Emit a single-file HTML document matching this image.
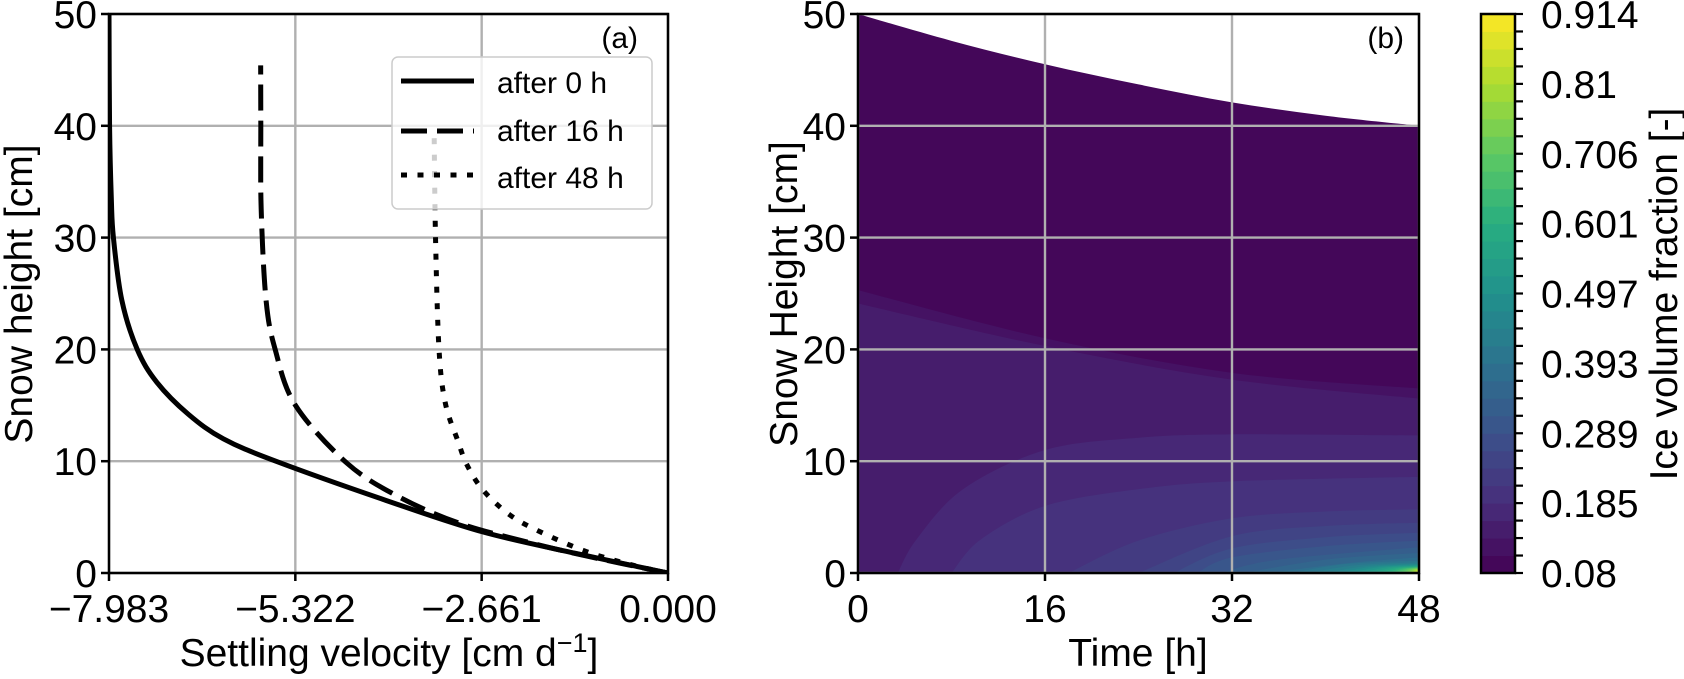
<!DOCTYPE html>
<html><head><meta charset="utf-8"><style>
html,body{margin:0;padding:0;background:#fff;}
svg{display:block;font-family:"Liberation Sans",Arial,sans-serif;}
</style></head><body>
<svg id="fig" width="1684" height="679" viewBox="0 0 1684 679">
<defs>
<clipPath id="clipA"><rect x="109" y="14" width="559" height="559"/></clipPath>
<clipPath id="clipB"><rect x="858" y="14" width="561" height="559"/></clipPath>
</defs>
<g id="panelA"></g>
<g id="panelB"></g>
<g id="cbar"></g>
</svg>
<script>
// ---------- Panel (a) data ----------
const velTicks = [-7.983, -5.322, -2.661, 0.000];
const velTickLabels = ["\u22127.983", "\u22125.322", "\u22122.661", "0.000"];
const heightTicks = [0, 10, 20, 30, 40, 50];
const h0 = [0, 1.76, 3.7, 6.5, 10, 12, 14.2, 17.06, 20, 24.4, 30, 33.5, 40, 50];
const v0 = [0, -1.32, -2.66, -4.03, -5.6, -6.35, -6.85, -7.3, -7.58, -7.8, -7.92, -7.95, -7.975, -7.983];
const h16 = [0, 1.5, 2.8, 4.45, 6.8, 9.8, 15.0, 20, 24.4, 32.6, 40, 45.4];
const v16 = [0, -1.15, -2.03, -2.98, -3.84, -4.58, -5.32, -5.61, -5.74, -5.81, -5.815, -5.817];
const h48 = [0, 0.7, 1.9, 3.7, 5.2, 7.4, 9.66, 11.8, 15.2, 20, 30, 39.6];
const v48 = [0, -0.5, -1.16, -1.83, -2.26, -2.64, -2.87, -3.0, -3.18, -3.27, -3.32, -3.34];
const seriesNames = ["after 0 h", "after 16 h", "after 48 h"];

// ---------- Panel (b) data ----------
const timeTicks = [0, 16, 32, 48];
const topSurfaceT = [0, 8, 16, 24, 32, 40, 48];
const topSurfaceH = [50, 47.6, 45.5, 43.7, 42.1, 40.9, 40.0];
const upperBoundaries = [
  [[0,25.3],[16,21.0],[32,17.9],[48,16.5]],
  [[0,24.1],[16,20.3],[32,17.3],[48,15.6]],
  [[3.4,0],[5,3],[9,7.5],[16,11],[24,12.1],[32,12.4],[48,12.3]],
  [[8,0],[10.5,3],[16,6.0],[24,7.5],[32,8.2],[48,8.6]],
  [[18,0],[24,2.9],[32,4.9],[40,5.5],[48,5.7]],
  [[24,0],[32,3.3],[40,4.2],[48,4.5]],
  [[27,0],[32,2.2],[40,3.2],[48,3.6]],
  [[29,0],[32,1.4],[40,2.4],[48,2.9]],
  [[31,0],[36,1.2],[48,2.3]],
  [[33,0],[40,1.2],[48,1.8]],
  [[35,0],[42,0.9],[48,1.4]]
];
const lowerStartT = [37,38.5,40,41,42,43,43.8,44.5,45.1,45.6,46,46.4,46.7,47,47.2,47.4,47.6,47.75,47.9];
const lowerEndH = [1.1,0.95,0.85,0.78,0.72,0.67,0.63,0.59,0.56,0.53,0.5,0.47,0.44,0.41,0.38,0.35,0.32,0.29,0.26];
const cbarMin = 0.08, cbarMax = 0.914, nLevels = 32;
const cbarTickLabels = ["0.08","0.185","0.289","0.393","0.497","0.601","0.706","0.81","0.914"];

const NS = "http://www.w3.org/2000/svg";
function mk(tag, attrs, parent){ const e=document.createElementNS(NS,tag); for(const k in attrs) e.setAttribute(k,attrs[k]); parent.appendChild(e); return e; }

const AX0=109, AX1=668, Y0=573, Y1=14;
const xA = v => AX0 + (v - (-7.983)) / 7.983 * (AX1-AX0);
const yH = h => Y0 - h/50*(Y0-Y1);
const BX0=858, BX1=1419;
const xT = t => BX0 + t/48*(BX1-BX0);

function smoothPath(pts){
  let d = "M"+pts[0][0]+","+pts[0][1];
  for(let i=0;i<pts.length-1;i++){
    const p0=pts[Math.max(i-1,0)], p1=pts[i], p2=pts[i+1], p3=pts[Math.min(i+2,pts.length-1)];
    const c1=[p1[0]+(p2[0]-p0[0])/6, p1[1]+(p2[1]-p0[1])/6];
    const c2=[p2[0]-(p3[0]-p1[0])/6, p2[1]-(p3[1]-p1[1])/6];
    d+=" C"+c1[0]+","+c1[1]+" "+c2[0]+","+c2[1]+" "+p2[0]+","+p2[1];
  }
  return d;
}

const vir=[[68,1,84],[71,45,123],[59,82,139],[44,114,142],[33,145,140],[40,174,128],[94,201,98],[173,220,48],[253,231,37]];
function viridis(f){ f=Math.max(0,Math.min(1,f)); const s=f*8, i=Math.min(7,Math.floor(s)), r=s-i;
  const c=vir[i].map((v,j)=>Math.round(v+(vir[i+1][j]-v)*r)); return "rgb("+c.join(",")+")"; }
const levelColor = k => viridis((k+0.5)/nLevels);

// ---------- Panel (a) ----------
const A = document.getElementById("panelA");
const gridA = mk("g",{},A);


velTicks.forEach(v=>{ mk("line",{x1:xA(v),x2:xA(v),y1:Y1,y2:Y0,stroke:"#b0b0b0","stroke-width":2.4},gridA); });
heightTicks.forEach(h=>{ mk("line",{x1:AX0,x2:AX1,y1:yH(h),y2:yH(h),stroke:"#b0b0b0","stroke-width":2.4},gridA); });

const curvesA = mk("g",{"clip-path":"url(#clipA)"},A);
const seriesH=[h0,h16,h48], seriesV=[v0,v16,v48];
const dashes=["none","26 10","6 10.5"];
const curveNames=['curve-after-0h','curve-after-16h','curve-after-48h'];
for(let s=0;s<3;s++){
  const pts = seriesH[s].map((h,i)=>[xA(seriesV[s][i]), yH(h)]);
  const p = mk("path",{d:smoothPath(pts),fill:"none",stroke:"#000","stroke-width":5,"stroke-dasharray":dashes[s]},curvesA);
  
  
}
mk("rect",{x:AX0,y:Y1,width:AX1-AX0,height:Y0-Y1,fill:"none",stroke:"#000","stroke-width":2.5},A);

velTicks.forEach((v,i)=>{
  mk("line",{x1:xA(v),x2:xA(v),y1:Y0,y2:Y0+8,stroke:"#000","stroke-width":2.5},A);
  const t=mk("text",{x:xA(v),y:622,"font-size":39,"text-anchor":"middle"},A); t.textContent=velTickLabels[i];
  
  
});
heightTicks.forEach(h=>{
  mk("line",{x1:AX0-8,x2:AX0,y1:yH(h),y2:yH(h),stroke:"#000","stroke-width":2.5},A);
  const t=mk("text",{x:97,y:yH(h)+14,"font-size":39,"text-anchor":"end"},A); t.textContent=h;
  
  
});
let t=mk("text",{x:389,y:666,"font-size":39,"text-anchor":"middle"},A);
t.innerHTML='Settling velocity [cm d<tspan dy="-14" font-size="27">\u22121</tspan><tspan dy="14">]</tspan>';


t=mk("text",{x:32,y:294,"font-size":39,"text-anchor":"middle",transform:"rotate(-90 32 294)"},A); t.textContent="Snow height [cm]";


t=mk("text",{x:638,y:48,"font-size":30,"text-anchor":"end"},A); t.textContent="(a)";



const leg = mk("g",{},A);


mk("rect",{x:392,y:57,width:260,height:152,rx:6,fill:"#fff","fill-opacity":0.8,stroke:"#cccccc","stroke-width":1.5},leg);
const legY=[81,131,175], legTY=[93,141,188];
for(let s=0;s<3;s++){
  const e=mk("g",{},leg);
  
  
  mk("line",{x1:401,x2:474,y1:legY[s],y2:legY[s],stroke:"#000","stroke-width":5,"stroke-dasharray":dashes[s]},e);
  const lt=mk("text",{x:497,y:legTY[s],"font-size":30},e); lt.textContent=seriesNames[s];
}

// ---------- Panel (b) ----------
const B = document.getElementById("panelB");
const cont = mk("g",{"clip-path":"url(#clipB)"},B);


const topPts = topSurfaceT.map((tt,i)=>[xT(tt),yH(topSurfaceH[i])]);
let d = smoothPath(topPts)+" L"+xT(48)+","+yH(0)+" L"+xT(0)+","+yH(0)+" Z";
mk("path",{d:d,fill:levelColor(0)},cont);
function fillBoundary(bpts,k){
  const pts=bpts.map(p=>[xT(p[0]),yH(p[1])]);
  let dd=smoothPath(pts);
  if(bpts[0][1]===0){ dd+=" L"+(xT(48)+2)+","+pts[pts.length-1][1]+" L"+(xT(48)+2)+","+(yH(0)+2)+" Z"; }
  else { dd+=" L"+(xT(48)+2)+","+pts[pts.length-1][1]+" L"+(xT(48)+2)+","+(yH(0)+2)+" L"+(xT(0)-2)+","+(yH(0)+2)+" L"+(xT(0)-2)+","+pts[0][1]+" Z"; }
  const p=mk("path",{d:dd,fill:levelColor(k)},cont);
  
  
}
upperBoundaries.forEach((b,i)=>fillBoundary(b,i+1));
lowerStartT.forEach((ts,i)=>{
  const k=upperBoundaries.length+1+i;
  const pts=[[ts,0],[ts+(48-ts)*0.45,lowerEndH[i]*0.75],[48,lowerEndH[i]]];
  fillBoundary(pts,k);
});
const gridB=mk("g",{},B);


timeTicks.forEach(tt=>mk("line",{x1:xT(tt),x2:xT(tt),y1:Y1,y2:Y0,stroke:"#b0b0b0","stroke-width":2.4},gridB));
heightTicks.forEach(h=>mk("line",{x1:BX0,x2:BX1,y1:yH(h),y2:yH(h),stroke:"#b0b0b0","stroke-width":2.4},gridB));
mk("rect",{x:BX0,y:Y1,width:BX1-BX0,height:Y0-Y1,fill:"none",stroke:"#000","stroke-width":2.5},B);
timeTicks.forEach(tt=>{
  mk("line",{x1:xT(tt),x2:xT(tt),y1:Y0,y2:Y0+8,stroke:"#000","stroke-width":2.5},B);
  const l=mk("text",{x:xT(tt),y:622,"font-size":39,"text-anchor":"middle"},B); l.textContent=tt;
  
  
});
heightTicks.forEach(h=>{
  mk("line",{x1:BX0-8,x2:BX0,y1:yH(h),y2:yH(h),stroke:"#000","stroke-width":2.5},B);
  const l=mk("text",{x:846,y:yH(h)+14,"font-size":39,"text-anchor":"end"},B); l.textContent=h;
  
  
});
t=mk("text",{x:1138,y:666,"font-size":39,"text-anchor":"middle"},B); t.textContent="Time [h]";


t=mk("text",{x:797,y:294,"font-size":39,"text-anchor":"middle",transform:"rotate(-90 797 294)"},B); t.textContent="Snow Height [cm]";


t=mk("text",{x:1404,y:48,"font-size":30,"text-anchor":"end"},B); t.textContent="(b)";



// ---------- Colorbar ----------
const C=document.getElementById("cbar");
const CX0=1481, CX1=1515;
const yC = v => Y0 - (v-cbarMin)/(cbarMax-cbarMin)*(Y0-Y1);
const step=(cbarMax-cbarMin)/nLevels;
for(let k=0;k<nLevels;k++){
  const r=mk("rect",{x:CX0,y:yC(cbarMin+(k+1)*step),width:CX1-CX0,height:yC(cbarMin+k*step)-yC(cbarMin+(k+1)*step)+0.5,fill:levelColor(k)},C);
  
  
}
mk("rect",{x:CX0,y:Y1,width:CX1-CX0,height:Y0-Y1,fill:"none",stroke:"#000","stroke-width":2.5},C);
for(let k=0;k<=nLevels;k++){
  const y=yC(cbarMin+k*step);
  mk("line",{x1:CX1,x2:CX1+8,y1:y,y2:y,stroke:"#000","stroke-width":2.2},C);
}
cbarTickLabels.forEach((lab,i)=>{
  const l=mk("text",{x:1541,y:yC(cbarMin+i*4*step)+14,"font-size":39},C); l.textContent=lab;
  
  
});
t=mk("text",{x:1677,y:294,"font-size":39,"text-anchor":"middle",transform:"rotate(-90 1677 294)"},C); t.textContent="Ice volume fraction [-]";


</script>
</body></html>
